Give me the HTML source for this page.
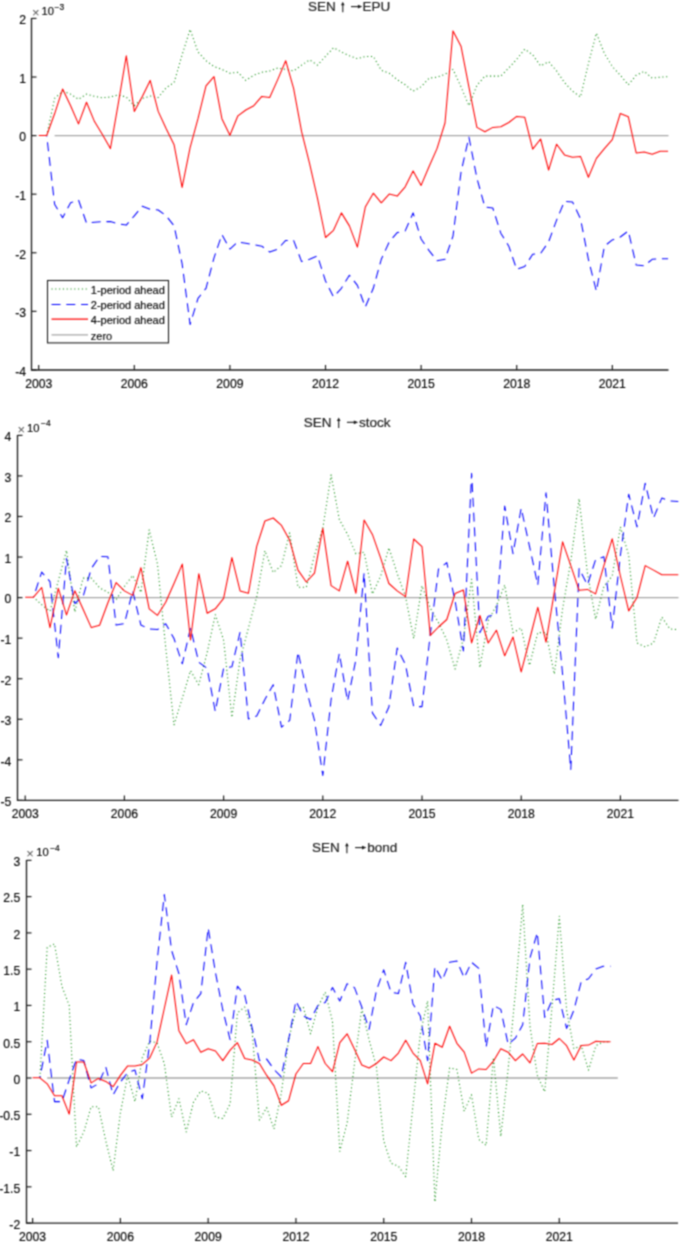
<!DOCTYPE html>
<html><head><meta charset="utf-8"><style>
html,body{margin:0;padding:0;background:#fff;}
body{width:685px;height:1243px;overflow:hidden;}
svg{display:block;font-family:'Liberation Sans',sans-serif;}
</style></head><body>
<svg width="685" height="1243" viewBox="0 0 685 1243" style="font-family:'Liberation Sans',sans-serif">
<defs><filter id="bl" filterUnits="userSpaceOnUse" x="0" y="0" width="685" height="1243" color-interpolation-filters="sRGB"><feConvolveMatrix order="3" kernelMatrix="0.05090 0.12381 0.05090 0.12381 0.30116 0.12381 0.05090 0.12381 0.05090" divisor="1" edgeMode="duplicate" preserveAlpha="true"/></filter><filter id="bt" filterUnits="userSpaceOnUse" x="0" y="0" width="685" height="1243" color-interpolation-filters="sRGB"><feConvolveMatrix order="3" kernelMatrix="0.05090 0.12381 0.05090 0.12381 0.30116 0.12381 0.05090 0.12381 0.05090" divisor="1" edgeMode="none" preserveAlpha="false"/></filter></defs>
<rect width="685" height="1243" fill="#fff"/>
<g filter="url(#bl)">
<rect width="685" height="1243" fill="#fff"/>
<line x1="54.63" y1="135.60" x2="668.50" y2="135.60" stroke="#a6a6a6" stroke-width="1.3"/>
<polyline points="46.7,135.5 54.6,98.4 62.6,91.2 70.6,94.1 78.5,99.3 86.5,94.1 94.5,96.4 102.4,97.8 110.4,97.0 118.4,94.9 126.3,97.0 134.3,105.7 142.3,98.4 150.2,96.1 158.2,97.5 166.2,87.7 174.1,82.5 182.1,54.9 190.1,29.4 198.0,52.0 206.0,60.7 214.0,66.5 221.9,69.4 229.9,73.2 237.9,72.3 245.8,80.4 253.8,75.2 261.8,72.3 269.7,70.9 277.7,68.0 285.7,69.4 293.6,70.9 301.6,65.1 309.6,59.9 317.5,65.1 325.5,56.4 333.5,47.7 341.4,52.0 349.4,55.8 357.4,58.7 365.3,56.4 373.3,56.4 381.3,70.3 389.2,73.2 397.2,79.6 405.2,84.8 413.1,91.2 421.1,86.8 429.1,78.1 437.0,77.2 445.0,74.3 453.0,69.4 461.0,86.8 468.9,105.7 476.9,85.4 484.9,76.1 492.8,76.1 500.8,76.1 508.8,68.0 516.7,59.3 524.7,49.1 532.7,54.9 540.6,65.9 548.6,61.6 556.6,70.9 564.5,82.5 572.5,91.2 580.5,97.0 588.4,63.6 596.4,33.2 604.4,53.5 612.3,66.5 620.3,75.2 628.3,84.8 636.2,75.2 644.2,71.4 652.2,78.1 660.1,77.2 668.1,76.7" fill="none" stroke="#008500" stroke-width="1.05" stroke-dasharray="1.05 2.75" stroke-dashoffset="7.967" stroke-linejoin="round"/>
<polyline points="46.7,135.5 54.6,204.2 62.6,217.8 70.6,202.8 78.5,199.9 86.5,223.0 94.5,222.2 102.4,221.6 110.4,221.6 118.4,223.9 126.3,225.1 134.3,215.8 142.3,206.2 150.2,209.4 158.2,210.0 166.2,215.8 174.1,225.9 182.1,263.6 190.1,324.5 198.0,298.4 206.0,288.3 214.0,257.8 221.9,234.6 229.9,249.1 237.9,241.9 245.8,243.3 253.8,244.8 261.8,246.2 269.7,252.0 277.7,249.1 285.7,240.4 293.6,240.4 301.6,261.6 309.6,259.3 317.5,255.8 325.5,281.0 333.5,297.0 341.4,288.3 349.4,275.2 357.4,285.4 365.3,307.1 373.3,288.3 381.3,259.3 389.2,241.9 397.2,232.6 405.2,230.9 413.1,212.9 421.1,239.0 429.1,250.6 437.0,260.7 445.0,259.3 453.0,236.1 461.0,172.3 468.9,137.0 476.9,178.1 484.9,207.1 492.8,208.0 500.8,233.2 508.8,246.2 516.7,269.4 524.7,266.5 532.7,254.3 540.6,253.5 548.6,241.9 556.6,220.1 564.5,201.3 572.5,201.9 580.5,218.7 588.4,259.3 596.4,291.2 604.4,246.2 612.3,239.9 620.3,237.0 628.3,230.9 636.2,265.1 644.2,265.9 652.2,259.3 660.1,258.7 668.1,258.7" fill="none" stroke="#0000ff" stroke-width="1.05" stroke-dasharray="9 5.8" stroke-dashoffset="7.967" stroke-linejoin="round"/>
<polyline points="38.7,135.5 46.7,135.5 54.6,113.8 62.6,89.1 70.6,105.7 78.5,123.9 86.5,102.2 94.5,121.6 102.4,134.6 110.4,148.6 118.4,102.8 126.3,55.8 134.3,111.4 142.3,96.4 150.2,80.4 158.2,111.4 166.2,128.8 174.1,144.8 182.1,187.4 190.1,147.7 198.0,118.7 206.0,85.9 214.0,76.7 221.9,118.7 229.9,135.2 237.9,115.8 245.8,110.0 253.8,105.7 261.8,96.4 269.7,97.5 277.7,79.6 285.7,60.7 293.6,88.3 301.6,131.7 309.6,163.6 317.5,198.4 325.5,237.5 333.5,230.3 341.4,212.9 349.4,225.9 357.4,247.1 365.3,207.1 373.3,193.2 381.3,202.8 389.2,194.1 397.2,196.1 405.2,186.8 413.1,170.9 421.1,185.4 429.1,166.5 437.0,148.6 445.0,123.0 453.0,30.9 461.0,46.2 468.9,86.8 476.9,127.4 484.9,131.7 492.8,127.4 500.8,126.8 508.8,122.5 516.7,116.4 524.7,117.2 532.7,149.1 540.6,139.0 548.6,170.0 556.6,144.2 564.5,154.9 572.5,157.2 580.5,156.4 588.4,177.2 596.4,158.4 604.4,148.6 612.3,139.6 620.3,113.5 628.3,116.7 636.2,152.9 644.2,152.0 652.2,154.3 660.1,151.2 668.1,151.2" fill="none" stroke="#ff0000" stroke-width="1.05" stroke-linejoin="round"/>
<path d="M31.50,18.00 V369.95 H668.50" fill="none" stroke="#1e1e1e" stroke-width="1.35"/>
<line x1="31.50" y1="18.44" x2="36.50" y2="18.44" stroke="#1e1e1e" stroke-width="1.2"/>
<line x1="31.50" y1="77.02" x2="36.50" y2="77.02" stroke="#1e1e1e" stroke-width="1.2"/>
<line x1="31.50" y1="135.60" x2="36.50" y2="135.60" stroke="#1e1e1e" stroke-width="1.2"/>
<line x1="31.50" y1="194.18" x2="36.50" y2="194.18" stroke="#1e1e1e" stroke-width="1.2"/>
<line x1="31.50" y1="252.76" x2="36.50" y2="252.76" stroke="#1e1e1e" stroke-width="1.2"/>
<line x1="31.50" y1="311.34" x2="36.50" y2="311.34" stroke="#1e1e1e" stroke-width="1.2"/>
<line x1="31.50" y1="369.92" x2="36.50" y2="369.92" stroke="#1e1e1e" stroke-width="1.2"/>
<line x1="38.70" y1="369.95" x2="38.70" y2="364.95" stroke="#1e1e1e" stroke-width="1.2"/>
<line x1="134.30" y1="369.95" x2="134.30" y2="364.95" stroke="#1e1e1e" stroke-width="1.2"/>
<line x1="229.91" y1="369.95" x2="229.91" y2="364.95" stroke="#1e1e1e" stroke-width="1.2"/>
<line x1="325.51" y1="369.95" x2="325.51" y2="364.95" stroke="#1e1e1e" stroke-width="1.2"/>
<line x1="421.12" y1="369.95" x2="421.12" y2="364.95" stroke="#1e1e1e" stroke-width="1.2"/>
<line x1="516.72" y1="369.95" x2="516.72" y2="364.95" stroke="#1e1e1e" stroke-width="1.2"/>
<line x1="612.32" y1="369.95" x2="612.32" y2="364.95" stroke="#1e1e1e" stroke-width="1.2"/>
<path d="M342.80,12.30 V4.80" stroke="#1a1a1a" stroke-width="1.1" fill="none"/>
<path d="M342.80,1.70 L344.60,5.30 L341.00,5.30 Z" fill="#1a1a1a"/>
<path d="M351.00,6.60 H358.30" stroke="#1a1a1a" stroke-width="1.1" fill="none"/>
<path d="M362.30,6.60 L357.90,4.70 L357.90,8.50 Z" fill="#1a1a1a"/>
<line x1="41.73" y1="597.60" x2="678.50" y2="597.60" stroke="#a6a6a6" stroke-width="1.3"/>
<polyline points="33.5,597.2 41.7,604.7 50.0,611.3 58.3,580.8 66.5,550.4 74.8,611.9 83.1,578.1 91.3,578.1 99.6,587.8 107.9,592.4 116.1,599.8 124.4,586.5 132.7,575.4 140.9,592.4 149.2,529.9 157.5,564.1 165.7,647.5 174.0,724.8 182.3,698.1 190.5,670.7 198.8,684.7 207.1,652.8 215.3,614.7 223.6,640.0 231.9,717.4 240.1,659.4 248.4,628.1 256.7,596.9 264.9,550.7 273.2,572.5 281.5,565.6 289.7,532.9 298.0,587.3 306.3,587.3 314.5,555.2 322.8,528.4 331.1,474.8 339.3,519.5 347.6,534.4 355.9,553.7 364.1,552.2 372.4,593.9 380.7,576.0 388.9,547.8 397.2,573.5 405.5,596.6 413.7,638.6 422.0,585.8 430.3,608.2 438.5,622.7 446.8,640.1 455.1,669.0 463.4,638.6 471.6,579.3 479.9,667.6 488.2,620.7 496.4,605.8 504.7,585.0 513.0,632.6 521.2,628.1 529.5,665.3 537.8,632.6 546.0,632.6 554.3,674.2 562.6,608.8 570.8,561.2 579.1,498.7 587.4,573.1 595.6,619.2 603.9,586.5 612.2,576.0 620.4,526.9 628.7,555.2 637.0,643.0 645.2,646.9 653.5,643.0 661.8,617.1 670.0,629.0 678.3,629.6" fill="none" stroke="#008500" stroke-width="1.05" stroke-dasharray="1.05 2.75" stroke-dashoffset="8.267" stroke-linejoin="round"/>
<polyline points="33.5,597.2 41.7,572.1 50.0,581.7 58.3,657.8 66.5,558.6 74.8,603.5 83.1,596.5 91.3,568.5 99.6,556.4 107.9,556.7 116.1,625.1 124.4,623.7 132.7,590.9 140.9,625.1 149.2,629.0 157.5,629.6 165.7,623.7 174.0,638.5 182.3,663.8 190.5,628.1 198.8,662.3 207.1,668.3 215.3,711.5 223.6,668.3 231.9,666.8 240.1,632.0 248.4,718.9 256.7,715.9 264.9,699.5 273.2,684.7 281.5,727.2 289.7,720.4 298.0,651.9 306.3,689.1 314.5,720.4 322.8,775.4 331.1,699.5 339.3,653.4 347.6,701.0 355.9,659.4 364.1,573.1 372.4,712.9 380.7,725.4 388.9,707.0 397.2,648.0 405.5,664.7 413.7,706.6 422.0,706.6 430.3,634.3 438.5,569.1 446.8,562.6 455.1,601.0 463.4,650.9 471.6,473.4 479.9,632.6 488.2,616.2 496.4,614.7 504.7,506.1 513.0,553.7 521.2,508.2 529.5,546.3 537.8,585.0 546.0,492.7 554.3,587.9 562.6,674.2 570.8,769.5 579.1,568.6 587.4,585.0 595.6,559.7 603.9,556.7 612.2,628.1 620.4,555.2 628.7,494.2 637.0,526.9 645.2,483.2 653.5,518.0 661.8,498.1 670.0,501.0 678.3,501.6" fill="none" stroke="#0000ff" stroke-width="1.05" stroke-dasharray="9 5.8" stroke-dashoffset="8.267" stroke-linejoin="round"/>
<polyline points="25.2,597.2 33.5,597.2 41.7,587.5 50.0,627.6 58.3,588.4 66.5,614.9 74.8,590.8 83.1,609.3 91.3,627.6 99.6,625.2 107.9,602.8 116.1,582.6 124.4,590.9 132.7,595.4 140.9,567.7 149.2,608.8 157.5,615.3 165.7,602.2 174.0,583.5 182.3,564.1 190.5,640.0 198.8,573.7 207.1,613.2 215.3,608.8 223.6,598.4 231.9,557.6 240.1,590.9 248.4,593.3 256.7,546.3 264.9,521.0 273.2,518.0 281.5,525.4 289.7,540.3 298.0,570.1 306.3,582.0 314.5,573.1 322.8,528.4 331.1,585.6 339.3,590.9 347.6,561.2 355.9,593.3 364.1,520.1 372.4,534.4 380.7,558.2 388.9,583.5 397.2,590.9 405.5,596.6 413.7,539.0 422.0,546.7 430.3,635.4 438.5,627.0 446.8,619.5 455.1,593.5 463.4,590.1 471.6,642.9 479.9,615.5 488.2,643.0 496.4,630.2 504.7,655.8 513.0,637.0 521.2,671.9 529.5,640.0 537.8,607.3 546.0,642.1 554.3,592.4 562.6,541.8 570.8,565.6 579.1,590.3 587.4,589.4 595.6,593.9 603.9,565.6 612.2,538.8 620.4,576.0 628.7,610.9 637.0,597.5 645.2,565.6 653.5,570.1 661.8,574.8 670.0,574.8 678.3,574.8" fill="none" stroke="#ff0000" stroke-width="1.05" stroke-linejoin="round"/>
<path d="M17.50,435.00 V800.40 H678.50" fill="none" stroke="#1e1e1e" stroke-width="1.35"/>
<line x1="17.50" y1="435.36" x2="22.50" y2="435.36" stroke="#1e1e1e" stroke-width="1.2"/>
<line x1="17.50" y1="475.92" x2="22.50" y2="475.92" stroke="#1e1e1e" stroke-width="1.2"/>
<line x1="17.50" y1="516.48" x2="22.50" y2="516.48" stroke="#1e1e1e" stroke-width="1.2"/>
<line x1="17.50" y1="557.04" x2="22.50" y2="557.04" stroke="#1e1e1e" stroke-width="1.2"/>
<line x1="17.50" y1="597.60" x2="22.50" y2="597.60" stroke="#1e1e1e" stroke-width="1.2"/>
<line x1="17.50" y1="638.16" x2="22.50" y2="638.16" stroke="#1e1e1e" stroke-width="1.2"/>
<line x1="17.50" y1="678.72" x2="22.50" y2="678.72" stroke="#1e1e1e" stroke-width="1.2"/>
<line x1="17.50" y1="719.28" x2="22.50" y2="719.28" stroke="#1e1e1e" stroke-width="1.2"/>
<line x1="17.50" y1="759.84" x2="22.50" y2="759.84" stroke="#1e1e1e" stroke-width="1.2"/>
<line x1="17.50" y1="800.40" x2="22.50" y2="800.40" stroke="#1e1e1e" stroke-width="1.2"/>
<line x1="25.20" y1="800.40" x2="25.20" y2="795.40" stroke="#1e1e1e" stroke-width="1.2"/>
<line x1="124.40" y1="800.40" x2="124.40" y2="795.40" stroke="#1e1e1e" stroke-width="1.2"/>
<line x1="223.61" y1="800.40" x2="223.61" y2="795.40" stroke="#1e1e1e" stroke-width="1.2"/>
<line x1="322.81" y1="800.40" x2="322.81" y2="795.40" stroke="#1e1e1e" stroke-width="1.2"/>
<line x1="422.02" y1="800.40" x2="422.02" y2="795.40" stroke="#1e1e1e" stroke-width="1.2"/>
<line x1="521.22" y1="800.40" x2="521.22" y2="795.40" stroke="#1e1e1e" stroke-width="1.2"/>
<line x1="620.42" y1="800.40" x2="620.42" y2="795.40" stroke="#1e1e1e" stroke-width="1.2"/>
<path d="M338.70,428.00 V420.50" stroke="#1a1a1a" stroke-width="1.1" fill="none"/>
<path d="M338.70,417.40 L340.50,421.00 L336.90,421.00 Z" fill="#1a1a1a"/>
<path d="M346.90,422.30 H354.20" stroke="#1a1a1a" stroke-width="1.1" fill="none"/>
<path d="M358.20,422.30 L353.80,420.40 L353.80,424.20 Z" fill="#1a1a1a"/>
<line x1="47.23" y1="1078.00" x2="617.80" y2="1078.00" stroke="#a6a6a6" stroke-width="1.3"/>
<polyline points="39.9,1077.8 47.2,947.5 54.5,943.9 61.9,986.2 69.2,1005.5 76.5,1146.9 83.8,1132.0 91.1,1106.7 98.4,1106.7 105.8,1140.9 113.1,1170.7 120.4,1112.6 127.7,1075.4 135.0,1101.6 142.3,1057.6 149.6,1041.2 157.0,1042.7 164.3,1063.5 171.6,1117.1 178.9,1098.7 186.2,1132.0 193.5,1102.2 200.8,1090.9 208.2,1093.3 215.5,1117.1 222.8,1118.6 230.1,1103.7 237.4,1012.9 244.7,1007.0 252.1,1030.8 259.4,1120.1 266.7,1107.6 274.0,1129.0 281.3,1093.3 288.6,1039.7 295.9,1010.0 303.3,1007.0 310.6,1033.8 317.9,1007.0 325.2,992.1 332.5,1021.3 339.8,1151.3 347.1,1123.1 354.5,1063.5 361.8,1008.5 369.1,1039.7 376.4,1066.5 383.7,1140.9 391.0,1163.2 398.4,1166.2 405.7,1176.6 413.0,1105.2 420.3,1033.8 427.6,1001.0 434.9,1201.9 442.2,1123.1 449.6,1068.0 456.9,1069.5 464.2,1111.2 471.5,1094.8 478.8,1139.4 486.1,1145.4 493.4,1057.6 500.8,1136.5 508.1,1069.5 515.4,992.1 522.7,904.3 530.0,1026.3 537.3,1075.4 544.7,1091.8 552.0,1007.0 559.3,916.2 566.6,1010.0 573.9,1048.7 581.2,1045.7 588.5,1070.1 595.9,1045.7 603.2,1041.8 610.5,1041.8" fill="none" stroke="#008500" stroke-width="1.05" stroke-dasharray="1.05 2.75" stroke-dashoffset="7.315" stroke-linejoin="round"/>
<polyline points="39.9,1077.8 47.2,1040.3 54.5,1101.6 61.9,1101.6 69.2,1079.9 76.5,1059.1 83.8,1060.6 91.1,1087.9 98.4,1083.8 105.8,1067.1 113.1,1094.8 120.4,1082.0 127.7,1072.5 135.0,1070.1 142.3,1098.7 149.6,1044.2 157.0,962.3 164.3,894.5 171.6,950.4 178.9,973.7 186.2,1024.8 193.5,1002.5 200.8,993.6 208.2,928.1 215.5,972.8 222.8,1010.0 230.1,1039.7 237.4,986.2 244.7,995.1 252.1,1027.8 259.4,1060.6 266.7,1059.1 274.0,1069.5 281.3,1076.9 288.6,1039.7 295.9,1001.0 303.3,1015.9 310.6,1019.5 317.9,1005.5 325.2,1002.5 332.5,987.6 339.8,1001.0 347.1,983.8 354.5,987.6 361.8,1007.0 369.1,1029.3 376.4,990.6 383.7,969.8 391.0,992.1 398.4,993.6 405.7,962.3 413.0,1004.0 420.3,1015.9 427.6,1060.6 434.9,966.8 442.2,980.2 449.6,962.3 456.9,960.9 464.2,977.8 471.5,962.3 478.8,968.3 486.1,1047.2 493.4,1005.5 500.8,1009.4 508.1,1044.2 515.4,1038.2 522.7,1024.8 530.0,957.9 537.3,932.6 544.7,1017.4 552.0,1000.4 559.3,998.7 566.6,1028.4 573.9,1010.0 581.2,981.7 588.5,978.7 595.9,968.9 603.2,966.2 610.5,966.2" fill="none" stroke="#0000ff" stroke-width="1.05" stroke-dasharray="9 5.8" stroke-dashoffset="7.315" stroke-linejoin="round"/>
<polyline points="32.6,1077.8 39.9,1077.8 47.2,1083.8 54.5,1095.7 61.9,1095.7 69.2,1114.1 76.5,1062.0 83.8,1062.0 91.1,1082.9 98.4,1078.4 105.8,1081.4 113.1,1086.7 120.4,1075.4 127.7,1065.9 135.0,1065.9 142.3,1064.4 149.6,1058.2 157.0,1042.1 164.3,1008.5 171.6,975.1 178.9,1030.8 186.2,1043.6 193.5,1039.7 200.8,1052.2 208.2,1048.7 215.5,1051.0 222.8,1060.6 230.1,1050.1 237.4,1042.7 244.7,1058.5 252.1,1060.0 259.4,1063.5 266.7,1075.4 274.0,1085.9 281.3,1105.2 288.6,1100.7 295.9,1074.0 303.3,1063.5 310.6,1063.5 317.9,1046.6 325.2,1063.5 332.5,1071.6 339.8,1042.7 347.1,1033.8 354.5,1049.2 361.8,1065.0 369.1,1068.0 376.4,1063.5 383.7,1057.0 391.0,1060.6 398.4,1053.1 405.7,1040.3 413.0,1053.1 420.3,1060.6 427.6,1083.8 434.9,1043.3 442.2,1047.2 449.6,1026.3 456.9,1043.3 464.2,1052.2 471.5,1073.1 478.8,1068.9 486.1,1069.5 493.4,1061.2 500.8,1048.7 508.1,1052.2 515.4,1060.6 522.7,1054.0 530.0,1062.9 537.3,1043.6 544.7,1043.3 552.0,1044.5 559.3,1038.5 566.6,1045.7 573.9,1060.0 581.2,1045.4 588.5,1045.1 595.9,1041.2 603.2,1041.8 610.5,1041.8" fill="none" stroke="#ff0000" stroke-width="1.05" stroke-linejoin="round"/>
<path d="M26.50,859.90 V1223.10 H678.00" fill="none" stroke="#1e1e1e" stroke-width="1.35"/>
<line x1="26.50" y1="860.35" x2="31.50" y2="860.35" stroke="#1e1e1e" stroke-width="1.2"/>
<line x1="26.50" y1="896.62" x2="31.50" y2="896.62" stroke="#1e1e1e" stroke-width="1.2"/>
<line x1="26.50" y1="932.90" x2="31.50" y2="932.90" stroke="#1e1e1e" stroke-width="1.2"/>
<line x1="26.50" y1="969.17" x2="31.50" y2="969.17" stroke="#1e1e1e" stroke-width="1.2"/>
<line x1="26.50" y1="1005.45" x2="31.50" y2="1005.45" stroke="#1e1e1e" stroke-width="1.2"/>
<line x1="26.50" y1="1041.72" x2="31.50" y2="1041.72" stroke="#1e1e1e" stroke-width="1.2"/>
<line x1="26.50" y1="1078.00" x2="31.50" y2="1078.00" stroke="#1e1e1e" stroke-width="1.2"/>
<line x1="26.50" y1="1114.28" x2="31.50" y2="1114.28" stroke="#1e1e1e" stroke-width="1.2"/>
<line x1="26.50" y1="1150.55" x2="31.50" y2="1150.55" stroke="#1e1e1e" stroke-width="1.2"/>
<line x1="26.50" y1="1186.83" x2="31.50" y2="1186.83" stroke="#1e1e1e" stroke-width="1.2"/>
<line x1="26.50" y1="1223.10" x2="31.50" y2="1223.10" stroke="#1e1e1e" stroke-width="1.2"/>
<line x1="32.60" y1="1223.10" x2="32.60" y2="1218.10" stroke="#1e1e1e" stroke-width="1.2"/>
<line x1="120.38" y1="1223.10" x2="120.38" y2="1218.10" stroke="#1e1e1e" stroke-width="1.2"/>
<line x1="208.16" y1="1223.10" x2="208.16" y2="1218.10" stroke="#1e1e1e" stroke-width="1.2"/>
<line x1="295.94" y1="1223.10" x2="295.94" y2="1218.10" stroke="#1e1e1e" stroke-width="1.2"/>
<line x1="383.72" y1="1223.10" x2="383.72" y2="1218.10" stroke="#1e1e1e" stroke-width="1.2"/>
<line x1="471.50" y1="1223.10" x2="471.50" y2="1218.10" stroke="#1e1e1e" stroke-width="1.2"/>
<line x1="559.28" y1="1223.10" x2="559.28" y2="1218.10" stroke="#1e1e1e" stroke-width="1.2"/>
<path d="M346.90,853.30 V845.80" stroke="#1a1a1a" stroke-width="1.1" fill="none"/>
<path d="M346.90,842.70 L348.70,846.30 L345.10,846.30 Z" fill="#1a1a1a"/>
<path d="M355.10,847.60 H362.40" stroke="#1a1a1a" stroke-width="1.1" fill="none"/>
<path d="M366.40,847.60 L362.00,845.70 L362.00,849.50 Z" fill="#1a1a1a"/>
<rect x="47.5" y="280.5" width="121.0" height="62.4" fill="#fff" stroke="#1e1e1e" stroke-width="1.1"/>
<line x1="51.5" y1="289.0" x2="88" y2="289.0" stroke="#008500" stroke-width="1.05" stroke-dasharray="1.05 2.75"/>
<line x1="51.5" y1="304.5" x2="88" y2="304.5" stroke="#0000ff" stroke-width="1.05" stroke-dasharray="9 5.8"/>
<line x1="51.5" y1="319.1" x2="88" y2="319.1" stroke="#ff0000" stroke-width="1.05"/>
<line x1="51.5" y1="334.9" x2="88" y2="334.9" stroke="#a6a6a6" stroke-width="1.3"/>
</g>
<g filter="url(#bt)">
<text x="26.00" y="24.24" text-anchor="end" font-size="12.2" fill="#000000" stroke="#000000" stroke-width="0.15" >2</text>
<text x="26.00" y="82.82" text-anchor="end" font-size="12.2" fill="#000000" stroke="#000000" stroke-width="0.15" >1</text>
<text x="26.00" y="141.40" text-anchor="end" font-size="12.2" fill="#000000" stroke="#000000" stroke-width="0.15" >0</text>
<text x="26.00" y="199.98" text-anchor="end" font-size="12.2" fill="#000000" stroke="#000000" stroke-width="0.15" >-1</text>
<text x="26.00" y="258.56" text-anchor="end" font-size="12.2" fill="#000000" stroke="#000000" stroke-width="0.15" >-2</text>
<text x="26.00" y="317.14" text-anchor="end" font-size="12.2" fill="#000000" stroke="#000000" stroke-width="0.15" >-3</text>
<text x="26.00" y="375.72" text-anchor="end" font-size="12.2" fill="#000000" stroke="#000000" stroke-width="0.15" >-4</text>
<text x="38.70" y="387.85" text-anchor="middle" font-size="12.2" fill="#000000" stroke="#000000" stroke-width="0.15" >2003</text>
<text x="134.30" y="387.85" text-anchor="middle" font-size="12.2" fill="#000000" stroke="#000000" stroke-width="0.15" >2006</text>
<text x="229.91" y="387.85" text-anchor="middle" font-size="12.2" fill="#000000" stroke="#000000" stroke-width="0.15" >2009</text>
<text x="325.51" y="387.85" text-anchor="middle" font-size="12.2" fill="#000000" stroke="#000000" stroke-width="0.15" >2012</text>
<text x="421.12" y="387.85" text-anchor="middle" font-size="12.2" fill="#000000" stroke="#000000" stroke-width="0.15" >2015</text>
<text x="516.72" y="387.85" text-anchor="middle" font-size="12.2" fill="#000000" stroke="#000000" stroke-width="0.15" >2018</text>
<text x="612.32" y="387.85" text-anchor="middle" font-size="12.2" fill="#000000" stroke="#000000" stroke-width="0.15" >2021</text>
<text x="31.90" y="16.70" font-size="13" fill="#555">&#215;</text>
<text x="41.60" y="14.80" font-size="11.2" fill="#000000" stroke="#000000" stroke-width="0.15">10</text>
<text x="54.60" y="9.50" font-size="8.4" fill="#000000" stroke="#000000" stroke-width="0.15">&#8722;3</text>
<text x="307.90" y="11.30" font-size="13.5" fill="#1a1a1a" stroke="#1a1a1a" stroke-width="0.2">SEN</text>
<text x="362.60" y="11.30" font-size="13.5" fill="#1a1a1a" stroke="#1a1a1a" stroke-width="0.2">EPU</text>
<text x="11.40" y="441.16" text-anchor="end" font-size="12.2" fill="#000000" stroke="#000000" stroke-width="0.15" >4</text>
<text x="11.40" y="481.72" text-anchor="end" font-size="12.2" fill="#000000" stroke="#000000" stroke-width="0.15" >3</text>
<text x="11.40" y="522.28" text-anchor="end" font-size="12.2" fill="#000000" stroke="#000000" stroke-width="0.15" >2</text>
<text x="11.40" y="562.84" text-anchor="end" font-size="12.2" fill="#000000" stroke="#000000" stroke-width="0.15" >1</text>
<text x="11.40" y="603.40" text-anchor="end" font-size="12.2" fill="#000000" stroke="#000000" stroke-width="0.15" >0</text>
<text x="11.40" y="643.96" text-anchor="end" font-size="12.2" fill="#000000" stroke="#000000" stroke-width="0.15" >-1</text>
<text x="11.40" y="684.52" text-anchor="end" font-size="12.2" fill="#000000" stroke="#000000" stroke-width="0.15" >-2</text>
<text x="11.40" y="725.08" text-anchor="end" font-size="12.2" fill="#000000" stroke="#000000" stroke-width="0.15" >-3</text>
<text x="11.40" y="765.64" text-anchor="end" font-size="12.2" fill="#000000" stroke="#000000" stroke-width="0.15" >-4</text>
<text x="11.40" y="806.20" text-anchor="end" font-size="12.2" fill="#000000" stroke="#000000" stroke-width="0.15" >-5</text>
<text x="25.20" y="818.30" text-anchor="middle" font-size="12.2" fill="#000000" stroke="#000000" stroke-width="0.15" >2003</text>
<text x="124.40" y="818.30" text-anchor="middle" font-size="12.2" fill="#000000" stroke="#000000" stroke-width="0.15" >2006</text>
<text x="223.61" y="818.30" text-anchor="middle" font-size="12.2" fill="#000000" stroke="#000000" stroke-width="0.15" >2009</text>
<text x="322.81" y="818.30" text-anchor="middle" font-size="12.2" fill="#000000" stroke="#000000" stroke-width="0.15" >2012</text>
<text x="422.02" y="818.30" text-anchor="middle" font-size="12.2" fill="#000000" stroke="#000000" stroke-width="0.15" >2015</text>
<text x="521.22" y="818.30" text-anchor="middle" font-size="12.2" fill="#000000" stroke="#000000" stroke-width="0.15" >2018</text>
<text x="620.42" y="818.30" text-anchor="middle" font-size="12.2" fill="#000000" stroke="#000000" stroke-width="0.15" >2021</text>
<text x="17.60" y="433.50" font-size="13" fill="#555">&#215;</text>
<text x="27.00" y="431.60" font-size="11.2" fill="#000000" stroke="#000000" stroke-width="0.15">10</text>
<text x="41.00" y="426.30" font-size="8.4" fill="#000000" stroke="#000000" stroke-width="0.15">&#8722;4</text>
<text x="303.80" y="427.00" font-size="13.5" fill="#1a1a1a" stroke="#1a1a1a" stroke-width="0.2">SEN</text>
<text x="359.10" y="427.00" font-size="13.5" fill="#1a1a1a" stroke="#1a1a1a" stroke-width="0.2">stock</text>
<text x="20.20" y="866.15" text-anchor="end" font-size="12.2" fill="#000000" stroke="#000000" stroke-width="0.15" >3</text>
<text x="20.20" y="902.42" text-anchor="end" font-size="12.2" fill="#000000" stroke="#000000" stroke-width="0.15" >2.5</text>
<text x="20.20" y="938.70" text-anchor="end" font-size="12.2" fill="#000000" stroke="#000000" stroke-width="0.15" >2</text>
<text x="20.20" y="974.97" text-anchor="end" font-size="12.2" fill="#000000" stroke="#000000" stroke-width="0.15" >1.5</text>
<text x="20.20" y="1011.25" text-anchor="end" font-size="12.2" fill="#000000" stroke="#000000" stroke-width="0.15" >1</text>
<text x="20.20" y="1047.52" text-anchor="end" font-size="12.2" fill="#000000" stroke="#000000" stroke-width="0.15" >0.5</text>
<text x="20.20" y="1083.80" text-anchor="end" font-size="12.2" fill="#000000" stroke="#000000" stroke-width="0.15" >0</text>
<text x="20.20" y="1120.08" text-anchor="end" font-size="12.2" fill="#000000" stroke="#000000" stroke-width="0.15" >-0.5</text>
<text x="20.20" y="1156.35" text-anchor="end" font-size="12.2" fill="#000000" stroke="#000000" stroke-width="0.15" >-1</text>
<text x="20.20" y="1192.62" text-anchor="end" font-size="12.2" fill="#000000" stroke="#000000" stroke-width="0.15" >-1.5</text>
<text x="20.20" y="1228.90" text-anchor="end" font-size="12.2" fill="#000000" stroke="#000000" stroke-width="0.15" >-2</text>
<text x="32.60" y="1241.00" text-anchor="middle" font-size="12.2" fill="#000000" stroke="#000000" stroke-width="0.15" >2003</text>
<text x="120.38" y="1241.00" text-anchor="middle" font-size="12.2" fill="#000000" stroke="#000000" stroke-width="0.15" >2006</text>
<text x="208.16" y="1241.00" text-anchor="middle" font-size="12.2" fill="#000000" stroke="#000000" stroke-width="0.15" >2009</text>
<text x="295.94" y="1241.00" text-anchor="middle" font-size="12.2" fill="#000000" stroke="#000000" stroke-width="0.15" >2012</text>
<text x="383.72" y="1241.00" text-anchor="middle" font-size="12.2" fill="#000000" stroke="#000000" stroke-width="0.15" >2015</text>
<text x="471.50" y="1241.00" text-anchor="middle" font-size="12.2" fill="#000000" stroke="#000000" stroke-width="0.15" >2018</text>
<text x="559.28" y="1241.00" text-anchor="middle" font-size="12.2" fill="#000000" stroke="#000000" stroke-width="0.15" >2021</text>
<text x="26.20" y="858.30" font-size="13" fill="#555">&#215;</text>
<text x="36.20" y="856.40" font-size="11.2" fill="#000000" stroke="#000000" stroke-width="0.15">10</text>
<text x="50.20" y="851.10" font-size="8.4" fill="#000000" stroke="#000000" stroke-width="0.15">&#8722;4</text>
<text x="312.00" y="852.30" font-size="13.5" fill="#1a1a1a" stroke="#1a1a1a" stroke-width="0.2">SEN</text>
<text x="367.30" y="852.30" font-size="13.5" fill="#1a1a1a" stroke="#1a1a1a" stroke-width="0.2">bond</text>
<text x="90.80" y="293.70" text-anchor="start" font-size="11" fill="#000000" stroke="#000000" stroke-width="0.15" >1-period ahead</text>
<text x="90.80" y="309.20" text-anchor="start" font-size="11" fill="#000000" stroke="#000000" stroke-width="0.15" >2-period ahead</text>
<text x="90.80" y="323.80" text-anchor="start" font-size="11" fill="#000000" stroke="#000000" stroke-width="0.15" >4-period ahead</text>
<text x="90.80" y="339.60" text-anchor="start" font-size="11" fill="#000000" stroke="#000000" stroke-width="0.15" >zero</text>
</g>
</svg>
</body></html>
